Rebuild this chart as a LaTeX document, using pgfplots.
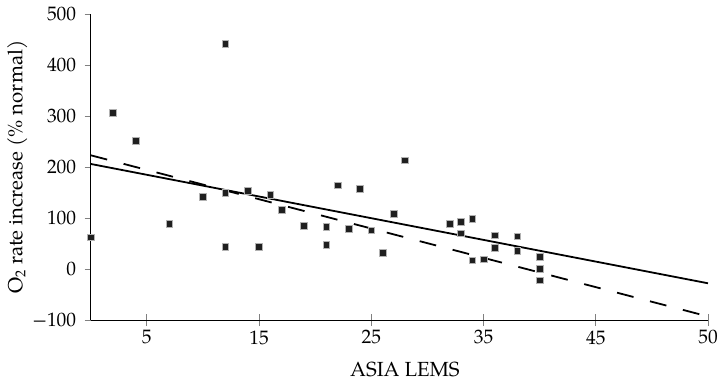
\documentclass[border=0pt]{standalone}
\usepackage{pgfplots}
\pgfplotsset{compat=1.18}
\usepackage{fontspec}
\setmainfont{TeX Gyre Pagella}
\begin{document}
\begin{tikzpicture}
\useasboundingbox (-90.7bp,-62bp) rectangle (629.3bp,320bp);
\begin{axis}[
  scale only axis,
  width=617.3bp, height=306bp,
  xmin=0, xmax=55, ymin=-100, ymax=500,
  axis x line=bottom, axis y line=left,
  axis line style={-, line width=1pt, black},
  xtick={5,15,25,35,45,55},
  xticklabels={5,15,25,35,45,50},
  ytick={-100,0,100,200,300,400,500},
  yticklabels={−100,0,100,200,300,400,500},
  xtick align=center, ytick align=outside,
  major tick length=12bp,
  every y tick/.style={line width=1pt},
  every x tick/.style={line width=1pt},
  y tick style={/pgfplots/major tick length=6bp},
  tick label style={font=\fontsize{19.5}{23}\selectfont},
  xticklabel style={yshift=-1bp},
  yticklabel style={xshift=1bp},
  xlabel={ASIA LEMS},
  ylabel={O\textsubscript{2} rate increase (\% normal)},
  label style={font=\fontsize{20.5}{24}\selectfont},
  xlabel style={at={(axis description cs:0.509,-0.163)}, anchor=center},
  ylabel style={at={(axis description cs:-0.119,0.5)}, anchor=center},
  clip=false,
]
\addplot[only marks, mark=square*, mark size=3.4bp, mark options={fill=black!88, draw=gray!60, line width=0.6pt}] coordinates {
(0,62) (2,306) (4,252) (7,88) (10,142) (12,441) (12,150) (12,44) (14,154)
(15,44) (16,145) (17,116) (19,85) (21,83) (21,47) (22,164) (23,79) (24,158)
(25,76) (26,32) (27,108) (28,213) (32,88) (33,92) (33,70) (34,98) (34,17)
(35,19) (36,66) (36,42) (38,64) (38,35) (40,24) (40,0) (40,-22)
};
\addplot[black, line width=1.8pt] coordinates {(0,206) (55,-28)};
\addplot[black, line width=1.8pt, dash pattern=on 17bp off 17bp] coordinates {(0,223) (55,-93)};
\end{axis}
\end{tikzpicture}
\end{document}
